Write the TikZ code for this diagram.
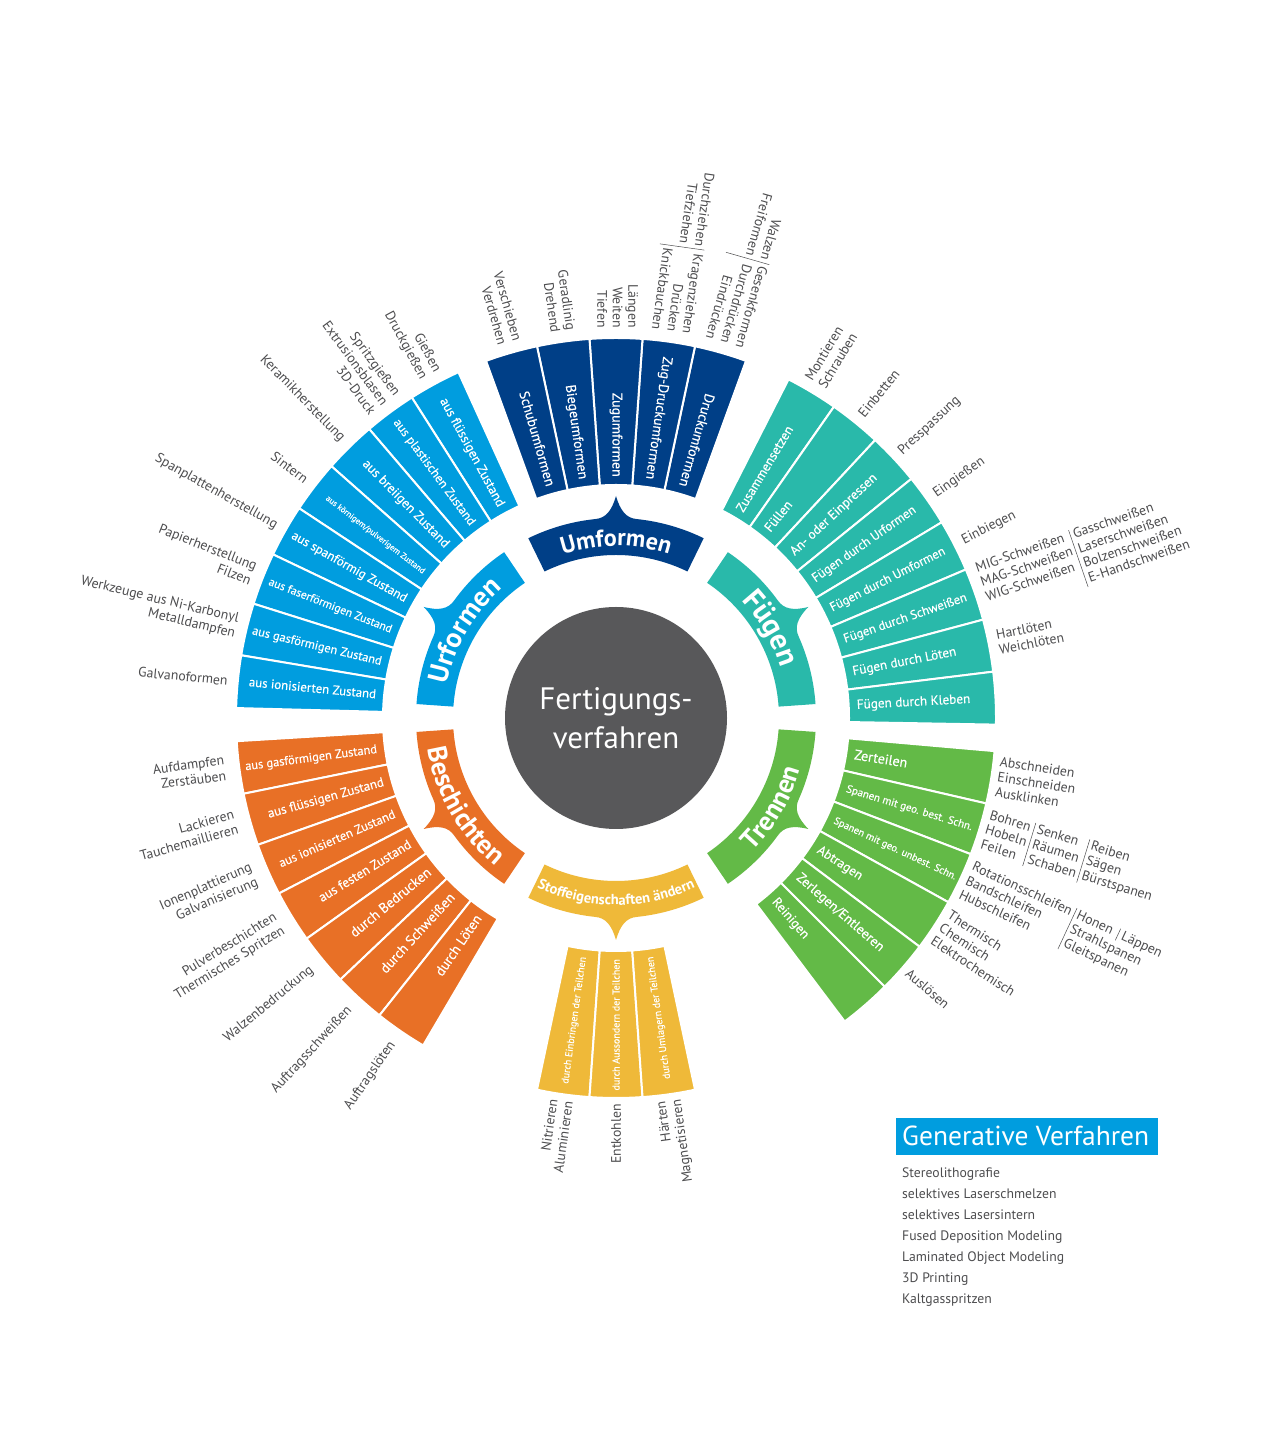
\documentclass[tikz,border=0pt]{standalone}
\usepackage{fontspec}
\setmainfont{PT Sans}
\newfontfamily\segfam[FakeBold=0.35]{PT Sans}
\usetikzlibrary{decorations.text}
\definecolor{umf}{RGB}{0,63,135}
\definecolor{urf}{RGB}{0,157,223}
\definecolor{fue}{RGB}{41,185,170}
\definecolor{tre}{RGB}{99,186,71}
\definecolor{bes}{RGB}{232,112,38}
\definecolor{sto}{RGB}{239,185,57}
\definecolor{cgray}{RGB}{88,88,90}
\definecolor{labgray}{RGB}{77,77,79}

\newcommand\labfont{\fontsize{13.8}{15.5}\selectfont}
\newcommand\colR[1]{\begin{tabular}[t]{@{}r@{}}#1\end{tabular}}
\newcommand\colL[1]{\begin{tabular}[t]{@{}l@{}}#1\end{tabular}}
\newcommand\vsepr[1]{\hspace{3pt}\vrule width 0.5pt height 10pt depth #1\hspace{3pt}}

\newcommand\segsector[2]{\filldraw[fill=#1,draw=white,line width=2pt] (#2-4:233) arc[start angle=#2-4,end angle=#2+4,radius=233] -- (#2+4:380) arc[start angle=#2+4,end angle=#2-4,radius=380] -- cycle;}
\newcommand\segin[4][13.2]{\node[segtxt,font=\segfam\fontsize{#1}{#1}\selectfont,rotate=#3-180,anchor=east] (#2) at (#3:241) {#4};}
\newcommand\segout[4][13.2]{\node[segtxt,font=\segfam\fontsize{#1}{#1}\selectfont,rotate=#3,anchor=west] (#2) at (#3:241) {#4};}
\newcommand\labin[4][390]{\node[lab,rotate=#3-180,anchor=east] (#2) at (#3:#1) {#4};}
\newcommand\labout[4][389]{\node[lab,rotate=#3,anchor=west] (#2) at (#3:#1) {#4};}

\newcommand\catband[2]{\fill[#1] (#2-26:163) -- (#2-26:200) arc[start angle=#2-26,end angle=#2-6,radius=200] .. controls (#2-3:200) and (#2-1.2:207) .. (#2:222) .. controls (#2+1.2:207) and (#2+3:200) .. (#2+6:200) arc[start angle=#2+6,end angle=#2+26,radius=200] -- (#2+26:163) arc[start angle=#2+26,end angle=#2-26,radius=163] -- cycle;}
\newcommand\catup[4]{\path[decorate,decoration={text along path,text align=center,text={|\color{white}\bfseries\fontsize{#3}{#3}\selectfont|#4}}] (#1+45:#2) arc[start angle=#1+45,end angle=#1-45,radius=#2];}
\newcommand\catdown[4]{\path[decorate,decoration={text along path,text align=center,text={|\color{white}\bfseries\fontsize{#3}{#3}\selectfont|#4}}] (#1-45:#2) arc[start angle=#1-45,end angle=#1+45,radius=#2];}

\tikzset{
  segtxt/.style={text=white,inner sep=0pt,text height=9.5pt,text depth=2.5pt},
  lab/.style={text=labgray,inner sep=0pt,font=\labfont}
}

\begin{document}
\begin{tikzpicture}[x=1pt,y=1pt]
\useasboundingbox (0,0) rectangle (1280,1440);
\fill[white] (0,0) rectangle (1280,1440);
\begin{scope}[shift={(616,722)}]
% ---------------- Umformen
\segsector{umf}{74}\segsector{umf}{82}\segsector{umf}{90}\segsector{umf}{98}\segsector{umf}{106}
\segin[14]{su1}{74}{Druckumformen}
\segin[14]{su2}{82}{Zug-Druckumformen}
\segin[14]{su3}{90}{Zugumformen}
\segin[14]{su4}{98}{Biegeumformen}
\segin[14]{su5}{106}{Schubumformen}
\labin{lu1}{106}{\colR{Verschieben\\Verdrehen}}
\labin{lu2}{98}{\colR{Geradlinig\\Drehend}}
\labin{lu3}{90}{\colR{Längen\\Weiten\\Tiefen}}
\labin{lu4}{82}{\colR{Durchziehen\\Tiefziehen}\vsepr{35pt}\colR{Kragenziehen\\Drücken\\Knickbauchen}}
\labin{lu5}{74}{\colR{Walzen\\Freiformen}\vsepr{35pt}\colR{Gesenkformen\\Durchdrücken\\Eindrücken}}
% ---------------- Urformen
\segsector{urf}{118.5}\segsector{urf}{126.5}\segsector{urf}{134.5}\segsector{urf}{142.5}
\segsector{urf}{150.5}\segsector{urf}{158.5}\segsector{urf}{166.5}\segsector{urf}{174.5}
\segin{sr1}{118.5}{aus flüssigen Zustand}
\segin[12.6]{sr2}{126.5}{aus plastischen Zustand}
\segin{sr3}{134.5}{aus breiigen Zustand}
\segin[8.4]{sr4}{142.5}{aus körnigem/pulverigem Zustand}
\segin[12.8]{sr5}{150.5}{aus spanförmig Zustand}
\segin[11.6]{sr6}{158.5}{aus faserförmigen Zustand}
\segin[12.4]{sr7}{166.5}{aus gasförmigen Zustand}
\segin[12.8]{sr8}{174.5}{aus ionisierten Zustand}
\labin{lr1}{118.5}{\colR{Gießen\\Druckgießen}}
\labin{lr2}{126.5}{\colR{Spritzgießen\\Extrusionsblasen\\3D-Druck}}
\labin{lr3}{134.5}{Keramikherstellung}
\labin{lr4}{142.5}{Sintern}
\labin{lr5}{150.5}{Spanplattenherstellung}
\labin{lr6}{158.5}{\colR{Papierherstellung\\Filzen}}
\labin{lr7}{166.5}{\colR{Werkzeuge aus Ni-Karbonyl\\Metalldampfen}}
\labin{lr8}{174.5}{Galvanoformen}
% ---------------- Fügen
\segsector{fue}{59}\segsector{fue}{51}\segsector{fue}{43}\segsector{fue}{35}
\segsector{fue}{27}\segsector{fue}{19}\segsector{fue}{11}\segsector{fue}{3}
\segout{sf1}{59}{Zusammensetzen}
\segout{sf2}{51}{Füllen}
\segout{sf3}{43}{An- oder Einpressen}
\segout[12.8]{sf4}{35}{Fügen durch Urformen}
\segout[12.6]{sf5}{27}{Fügen durch Umformen}
\segout[12.6]{sf6}{19}{Fügen durch Schweißen}
\segout{sf7}{11}{Fügen durch Löten}
\segout{sf8}{3}{Fügen durch Kleben}
\labout{lf1}{59}{\colL{Montieren\\Schrauben}}
\labout{lf2}{51}{Einbetten}
\labout{lf3}{43}{Presspassung}
\labout{lf4}{35}{Eingießen}
\labout{lf5}{27}{Einbiegen}
\labout{lf6}{19}{\colL{MIG-Schweißen\\MAG-Schweißen\\WIG-Schweißen}\vsepr{50pt}\colL{Gasschweißen\\Laserschweißen\\Bolzenschweißen\\E-Handschweißen}}
\labout{lf7}{11}{\colL{Hartlöten\\Weichlöten}}
% ---------------- Trennen
\segsector{tre}{-9}\segsector{tre}{-17}\segsector{tre}{-25}\segsector{tre}{-33}\segsector{tre}{-41}\segsector{tre}{-49}
\segout[14]{st1}{-9}{Zerteilen}
\segout[11]{st2}{-17}{Spanen mit geo. best. Schn.}
\segout[10.3]{st3}{-25}{Spanen mit geo. unbest. Schn.}
\segout{st4}{-33}{Abtragen}
\segout[13.6]{st5}{-41}{Zerlegen/Entleeren}
\segout{st6}{-49}{Reinigen}
\labout[386]{lt1}{-9}{\colL{Abschneiden\\Einschneiden\\Ausklinken}}
\labout[386]{lt2}{-17}{\colL{Bohren\\Hobeln\\Feilen}\vsepr{35pt}\colL{Senken\\Räumen\\Schaben}\vsepr{35pt}\colL{Reiben\\Sägen\\Bürstspanen}}
\labout[386]{lt3}{-25}{\colL{Rotationsschleifen\\Bandschleifen\\Hubschleifen}\vsepr{35pt}\colL{Honen\hspace{6pt}\vrule width 0.5pt height 10pt depth 3pt\hspace{4pt}Läppen\\Strahlspanen\\Gleitspanen}}
\labout[386]{lt4}{-33}{\colL{Thermisch\\Chemisch\\Elektrochemisch}}
\labout[386]{lt5}{-41}{Auslösen}
% ---------------- Beschichten
\segsector{bes}{187.5}\segsector{bes}{195.5}\segsector{bes}{203.5}\segsector{bes}{211.5}
\segsector{bes}{219.5}\segsector{bes}{227.5}\segsector{bes}{235.5}
\segin[12.4]{sb1}{187.5}{aus gasförmigen Zustand}
\segin[13]{sb2}{195.5}{aus flüssigen Zustand}
\segin[12.6]{sb3}{203.5}{aus ionisierten Zustand}
\segin[13.2]{sb4}{211.5}{aus festen Zustand}
\segin[14]{sb5}{219.5}{durch Bedrucken}
\segin[14]{sb6}{227.5}{durch Schweißen}
\segin[14]{sb7}{235.5}{durch Löten}
\labin[394]{lb1}{187.5}{\colR{Aufdampfen\\Zerstäuben}}
\labin[394]{lb2}{195.5}{\colR{Lackieren\\Tauchemaillieren}}
\labin[394]{lb3}{203.5}{\colR{Ionenplattierung\\Galvanisierung}}
\labin[394]{lb4}{211.5}{\colR{Pulverbeschichten\\Thermisches Spritzen}}
\labin[394]{lb5}{219.5}{Walzenbedruckung}
\labin[394]{lb6}{227.5}{Auftragsschweißen}
\labin[394]{lb7}{235.5}{Auftragslöten}
% ---------------- Stoffeigenschaften
\segsector{sto}{262}\segsector{sto}{270}\segsector{sto}{278}
\segin[10]{ss1}{262}{durch Einbringen der Teilchen}
\segin[10]{ss2}{270}{durch Aussondern der Teilchen}
\segin[10]{ss3}{278}{durch Umlagern der Teilchen}
\labin[386]{ls1}{262}{\colR{Nitrieren\\Aluminieren}}
\labin[386]{ls2}{270}{Entkohlen}
\labin[386]{ls3}{278}{\colR{Härten\\Magnetisieren}}
% ---------------- category bands
\catband{umf}{90}\catband{fue}{30}\catband{tre}{-30}\catband{sto}{270}\catband{bes}{210}\catband{urf}{150}
\catup{90}{172}{24}{Umformen}
\catup{30}{172}{30}{Fügen}
\catup{150}{172}{28}{Urformen}
\catdown{-30}{191}{27}{Trennen}
\catdown{210}{191}{27}{Beschichten}
\catdown{270}{187}{14.5}{Stoffeigenschaften ändern}
% ---------------- centre
\node[circle,fill=cgray,minimum size=222pt,inner sep=0pt] (centre) at (0,0) {};
\node[text=white,font=\fontsize{31}{39}\selectfont,align=center] (centretext) at (0,0) {Fertigungs-\\verfahren};
\end{scope}
% ---------------- Generative Verfahren
\node[fill=urf,minimum width=262pt,minimum height=37pt,inner sep=0pt,anchor=south west] (genbox) at (896,285) {};
\node[text=white,font=\fontsize{27.5}{27.5}\selectfont,inner sep=0pt,anchor=base west] (gentitle) at (902,294) {Generative Verfahren};
\foreach \t [count=\i] in {Stereolithografie,selektives Laserschmelzen,selektives Lasersintern,Fused Deposition Modeling,Laminated Object Modeling,3D Printing,Kaltgasspritzen}
  \node[lab,font=\fontsize{13.7}{15}\selectfont,anchor=base west] (gen\i) at (902,283-21*\i) {\t};
\end{tikzpicture}
\end{document}
